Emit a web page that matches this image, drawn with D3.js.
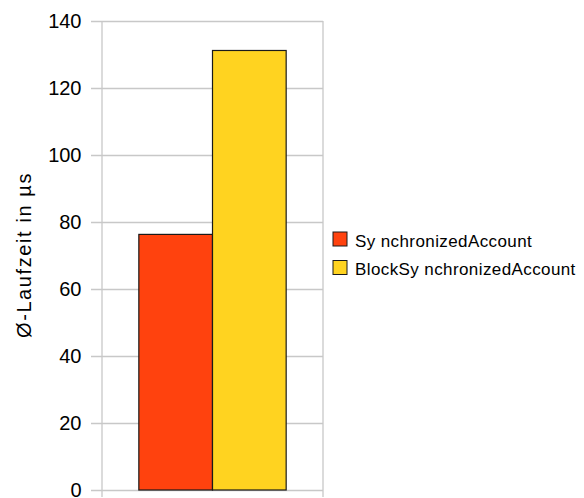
<!DOCTYPE html>
<html>
<head>
<meta charset="utf-8">
<script src="https://cdn.jsdelivr.net/npm/d3@7"></script>
<style>
  html, body { margin: 0; padding: 0; background: #fff; }
  svg { display: block; font-family: "Liberation Sans", Arial, sans-serif; }
</style>
</head>
<body>
<svg id="chart" width="584" height="498"></svg>
<script>
// Average runtime per account implementation
const categories = [""];
const seriesNames = ["Sy nchronizedAccount", "BlockSy nchronizedAccount"];
const seriesValues = [76.3, 131.2];
const seriesColors = ["#ff420e", "#ffd320"];
const yTicks = [0, 20, 40, 60, 80, 100, 120, 140];
const yTitle = "Ø-Laufzeit in µs";

const svg = d3.select("#chart");
const plot = { left: 102, right: 323, top: 21, bottom: 490 };

const y = d3.scaleLinear().domain([0, 140]).range([plot.bottom, plot.top]);
const x0 = d3.scaleBand().domain(categories).range([plot.left, plot.right])
  .paddingInner(0).paddingOuter(0.25);
const x1 = d3.scaleBand().domain(seriesNames).range([0, x0.bandwidth()]).padding(0);

const gridColor = "#c8c8c8";

// horizontal grid lines with short ticks to the left
const yAxis = d3.axisLeft(y).tickValues(yTicks).tickSize(plot.right - plot.left + 11)
  .tickPadding(9.5).tickFormat(d3.format("d"));
const gy = svg.append("g").attr("transform", `translate(${plot.right},0)`).call(yAxis);
gy.select(".domain").remove();
gy.selectAll(".tick line").attr("stroke", gridColor).attr("stroke-width", 1.3);
gy.selectAll(".tick text").attr("font-size", 20).attr("fill", "#000")
  .attr("font-family", "'Liberation Sans', Arial, sans-serif");

// category boundaries on the x axis
const xEdges = [plot.left, plot.right];
svg.append("g").selectAll("line").data(xEdges).join("line")
  .attr("x1", d => d).attr("x2", d => d)
  .attr("y1", plot.top).attr("y2", plot.bottom + 7)
  .attr("stroke", gridColor).attr("stroke-width", 1.3);

// bars
const g = svg.append("g");
categories.forEach(cat => {
  g.selectAll("rect.s").data(seriesNames).join("rect")
    .attr("x", d => x0(cat) + x1(d))
    .attr("width", x1.bandwidth())
    .attr("y", (d, i) => y(seriesValues[i]))
    .attr("height", (d, i) => y(0) - y(seriesValues[i]))
    .attr("fill", (d, i) => seriesColors[i])
    .attr("stroke", "#1a1a1a").attr("stroke-width", 1.2);
});

// axis title
svg.append("text")
  .attr("transform", `translate(31,255) rotate(-90)`)
  .attr("text-anchor", "middle")
  .attr("font-size", 20)
  .attr("letter-spacing", 1.6)
  .attr("fill", "#000")
  .text(yTitle);

// legend
const legend = svg.append("g").attr("transform", "translate(333,232)");
const items = legend.selectAll("g").data(seriesNames).join("g")
  .attr("transform", (d, i) => `translate(0,${i * 28.5})`);
items.append("rect").attr("width", 14).attr("height", 14)
  .attr("fill", (d, i) => seriesColors[i]).attr("stroke", "#1a1a1a").attr("stroke-width", 1);
items.append("text").attr("x", 22).attr("y", 14.5)
  .attr("font-size", 17).attr("letter-spacing", 0.4)
  .attr("fill", "#000").text(d => d);
</script>
</body>
</html>
